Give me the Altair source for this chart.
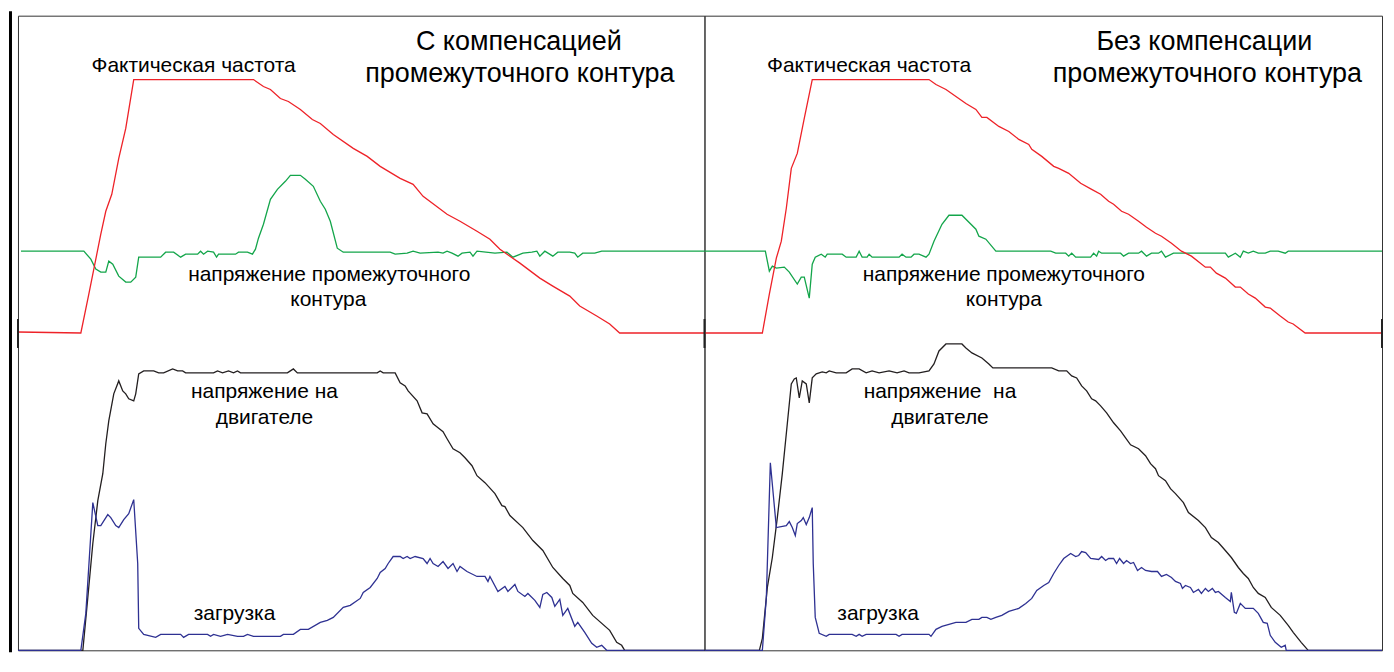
import altair as alt
import pandas as pd

# Time axis: samples 0..688 per panel; level axis: counts 0..636

# ---------------- left panel: with DC-link compensation ----------------
RED_L = [(0, 319), (63, 318), (71, 357), (83, 417), (88, 440), (94, 457), (101, 493), (108, 523), (116, 572),
         (236, 572), (246, 565), (253, 562), (263, 553), (271, 550), (283, 542), (295, 532), (303, 528),
         (316, 517), (336, 503), (350, 495), (363, 485), (383, 473), (396, 467), (406, 455), (430, 437),
         (443, 430), (460, 420), (473, 412), (483, 402), (493, 395), (503, 388), (523, 373), (536, 365),
         (553, 355), (563, 345), (580, 335), (593, 327), (603, 318), (688, 318)]

GREEN_L = [(3, 400), (66, 400), (73, 392), (78, 382), (83, 379), (88, 379), (91, 390), (95, 387), (101, 375),
           (108, 369), (113, 369), (118, 374), (121, 394), (143, 394), (148, 399), (156, 399), (163, 394),
           (168, 397), (180, 397), (183, 400), (186, 397), (190, 400), (196, 399), (199, 394), (201, 397),
           (218, 397), (221, 399), (230, 399), (235, 397), (238, 402), (241, 413), (246, 427), (253, 452),
           (260, 462), (268, 470), (273, 476), (283, 476), (288, 472), (296, 465), (303, 450), (308, 442),
           (313, 430), (320, 403), (326, 399), (373, 399), (378, 397), (390, 398), (396, 400), (403, 398),
           (421, 399), (426, 398), (430, 400), (435, 398), (441, 395), (445, 398), (453, 399), (456, 395),
           (460, 400), (478, 398), (490, 399), (496, 394), (506, 398), (515, 399), (520, 400), (523, 395),
           (528, 400), (536, 395), (541, 399), (553, 399), (558, 398), (561, 394), (566, 398), (578, 398),
           (585, 400), (688, 400)]

BLACK_L = [(0, 0), (65, 0), (70, 53), (75, 107), (80, 150), (85, 177), (88, 207), (91, 230), (96, 257),
           (101, 270), (105, 260), (108, 257), (111, 252), (116, 250), (118, 257), (121, 277), (126, 280),
           (136, 280), (141, 278), (146, 278), (155, 282), (160, 280), (165, 280), (168, 278), (196, 278),
           (200, 280), (205, 278), (211, 280), (216, 278), (220, 280), (223, 278), (270, 278), (273, 280),
           (276, 282), (280, 278), (360, 278), (363, 280), (366, 278), (378, 278), (383, 268), (388, 265),
           (391, 260), (400, 250), (405, 238), (410, 237), (416, 227), (421, 223), (426, 219), (430, 212),
           (436, 202), (443, 198), (448, 193), (455, 185), (460, 175), (468, 168), (478, 157), (485, 145),
           (488, 144), (493, 135), (506, 123), (516, 110), (526, 100), (536, 83), (546, 72), (553, 65),
           (556, 57), (566, 48), (576, 35), (593, 20), (600, 8), (605, 5), (608, 0), (688, 0)]

BLUE_L = [(0, 0), (63, 0), (68, 37), (75, 148), (80, 125), (83, 125), (90, 136), (93, 133), (98, 125),
          (101, 123), (106, 131), (111, 137), (116, 151), (120, 87), (121, 22), (126, 16), (138, 13),
          (143, 16), (163, 16), (166, 13), (171, 16), (190, 16), (193, 14), (196, 16), (203, 14), (210, 16),
          (220, 14), (226, 14), (230, 16), (236, 14), (263, 14), (266, 16), (276, 16), (283, 21), (291, 21),
          (303, 28), (310, 30), (316, 33), (326, 43), (333, 45), (343, 52), (346, 58), (353, 63), (360, 72),
          (363, 78), (368, 82), (371, 87), (376, 94), (383, 94), (386, 92), (390, 94), (393, 92), (398, 94),
          (406, 92), (410, 87), (413, 92), (416, 87), (421, 84), (426, 89), (431, 82), (436, 87), (440, 79),
          (443, 84), (450, 79), (460, 74), (468, 74), (471, 69), (473, 74), (481, 59), (488, 64), (491, 59),
          (498, 66), (501, 59), (508, 54), (511, 57), (518, 50), (523, 43), (526, 56), (530, 58), (535, 53),
          (538, 44), (543, 51), (546, 35), (551, 42), (558, 24), (561, 28), (568, 18), (575, 7), (580, 3),
          (585, 5), (590, 0), (688, 0)]

# ---------------- right panel: without DC-link compensation ----------------
RED_R = [(0, 318), (58, 318), (65, 357), (72, 393), (77, 410), (82, 443), (87, 483), (93, 498), (100, 533),
         (108, 572), (225, 572), (232, 567), (242, 562), (252, 555), (262, 548), (272, 542), (278, 534),
         (283, 534), (295, 525), (305, 520), (315, 512), (325, 507), (328, 502), (338, 495), (350, 485),
         (355, 483), (365, 478), (377, 468), (388, 462), (397, 457), (405, 450), (410, 447), (418, 440),
         (425, 437), (435, 430), (443, 424), (452, 418), (458, 415), (468, 408), (478, 400), (488, 395),
         (502, 384), (507, 384), (513, 378), (522, 373), (532, 364), (537, 364), (545, 357), (552, 353),
         (562, 344), (567, 343), (577, 335), (585, 329), (590, 327), (602, 318), (688, 318)]

GREEN_R = [(0, 400), (61, 400), (65, 380), (68, 385), (72, 383), (80, 384), (85, 379), (93, 367), (97, 374),
           (100, 374), (105, 353), (108, 387), (111, 394), (117, 397), (121, 394), (123, 397), (138, 397),
           (142, 394), (152, 394), (155, 400), (158, 394), (163, 394), (165, 397), (168, 394), (195, 394),
           (198, 397), (202, 394), (207, 394), (210, 397), (215, 397), (222, 394), (225, 397), (230, 410),
           (238, 427), (245, 436), (258, 436), (272, 422), (275, 415), (282, 412), (292, 400), (347, 400),
           (352, 398), (362, 398), (365, 395), (368, 398), (372, 394), (387, 394), (390, 398), (393, 395),
           (395, 400), (398, 398), (417, 398), (420, 395), (425, 398), (435, 398), (438, 400), (443, 395),
           (448, 398), (455, 398), (458, 400), (462, 394), (470, 398), (522, 398), (525, 394), (532, 398),
           (537, 394), (540, 400), (545, 398), (550, 400), (555, 398), (562, 398), (567, 400), (575, 400),
           (582, 398), (585, 400), (688, 400)]

BLACK_R = [(0, 0), (55, 0), (58, 12), (63, 63), (68, 93), (73, 133), (78, 177), (83, 227), (87, 267),
           (90, 272), (92, 273), (95, 253), (98, 270), (102, 267), (105, 248), (108, 273), (112, 277),
           (118, 279), (122, 278), (125, 280), (132, 278), (142, 278), (148, 282), (155, 282), (162, 278),
           (168, 280), (175, 278), (185, 280), (193, 278), (200, 280), (205, 278), (215, 278), (225, 280),
           (230, 287), (235, 300), (242, 307), (258, 307), (262, 303), (268, 298), (278, 293), (285, 287),
           (289, 283), (348, 283), (355, 280), (363, 280), (368, 275), (373, 273), (378, 265), (383, 260),
           (388, 252), (392, 250), (397, 245), (403, 238), (410, 228), (417, 220), (422, 213), (427, 206),
           (435, 202), (442, 195), (447, 187), (452, 182), (455, 175), (462, 170), (467, 162), (472, 157),
           (480, 148), (485, 138), (495, 130), (502, 123), (508, 113), (515, 108), (522, 100), (528, 93),
           (535, 83), (540, 77), (545, 72), (550, 63), (555, 57), (562, 53), (568, 43), (577, 35), (585, 25),
           (590, 18), (598, 8), (605, 0), (688, 0)]

BLUE_R = [(0, 0), (58, 0), (62, 53), (66, 188), (72, 123), (82, 125), (85, 129), (88, 123), (91, 115),
          (93, 127), (97, 130), (99, 133), (102, 126), (105, 133), (108, 143), (109, 87), (111, 33), (115, 17),
          (122, 14), (125, 16), (148, 16), (152, 14), (155, 16), (158, 14), (162, 16), (192, 16), (195, 14),
          (198, 16), (225, 16), (227, 14), (232, 21), (238, 24), (252, 28), (262, 28), (268, 31), (275, 31),
          (278, 33), (283, 33), (287, 31), (292, 33), (298, 35), (305, 39), (315, 42), (322, 47), (328, 52),
          (333, 60), (340, 65), (345, 68), (350, 77), (355, 85), (360, 92), (367, 97), (372, 94), (375, 95),
          (378, 99), (382, 98), (387, 92), (395, 91), (398, 94), (402, 90), (405, 92), (410, 92), (413, 87),
          (416, 92), (420, 87), (423, 90), (427, 87), (430, 88), (434, 80), (438, 83), (442, 80), (448, 79),
          (454, 79), (458, 74), (463, 76), (468, 73), (472, 69), (477, 67), (479, 62), (482, 65), (487, 63),
          (490, 58), (495, 61), (498, 57), (502, 62), (505, 59), (509, 62), (512, 58), (515, 59), (522, 53),
          (527, 49), (528, 58), (531, 38), (533, 37), (537, 47), (542, 42), (550, 42), (555, 37), (560, 28),
          (564, 27), (567, 15), (572, 8), (578, 3), (582, 5), (583, 0), (688, 0)]

# ---------------- annotation texts ----------------
LBL_L_TEXT = ["С компенсацией", "промежуточного контура", "Фактическая частота",
              "напряжение промежуточного", "контура", "напряжение на", "двигателе", "загрузка"]
LBL_L_T = [502, 503, 176, 312, 311, 247, 247, 217]
LBL_L_V = [602, 570, 580, 370, 345, 253, 227, 30]
LBL_L_SIZE = [27, 27, 21, 21, 21, 21, 21, 21]

LBL_R_TEXT = ["Без компенсации", "промежуточного контура", "Фактическая частота",
              "напряжение промежуточного", "контура", "напряжение\u00a0 на", "двигателе", "загрузка"]
LBL_R_T = [501, 504, 165, 300, 300, 236, 236, 174]
LBL_R_V = [602, 570, 580, 370, 345, 253, 227, 30]
LBL_R_SIZE = [27, 27, 21, 21, 21, 21, 21, 21]

# small markers on the frame at the frequency zero level
MARK_L_T = [0]
MARK_R_T = [0, 688]
MARK_V = [303, 332]

SERIES = ["Фактическая частота", "напряжение промежуточного контура", "напряжение на двигателе", "загрузка"]
COLORS = ["#ee2228", "#13a54a", "#231f20", "#2e3192"]

FONT = "Liberation Sans"
H = 636
W_L = 688          # left panel: full time window visible
W_R = 679          # right panel: page is 9 px too narrow, the flat tail is clamped
X_DOMAIN_L = [0, 688]
X_DOMAIN_R = [0, 679]


def panel(red, green, black, blue, texts, ts, vs, sizes, mark_ts, width, xdom, left_bar=False):
    rows = []
    for name, pts in zip([SERIES[1], SERIES[2], SERIES[3], SERIES[0]], [green, black, blue, red]):
        for i, (t, v) in enumerate(pts):
            rows.append({"series": name, "i": i, "t": t, "v": v})
    df = pd.DataFrame(rows)
    xs = alt.Scale(domain=xdom, nice=False, zero=False, clamp=True)
    ys = alt.Scale(domain=[0, 636], nice=False, zero=False)
    lines = alt.Chart(df).mark_line(strokeWidth=1.3).encode(
        x=alt.X("t:Q", scale=xs, axis=None),
        y=alt.Y("v:Q", scale=ys, axis=None),
        color=alt.Color("series:N", scale=alt.Scale(domain=SERIES, range=COLORS), legend=None),
        detail="series:N",
        order="i:Q",
    )
    ldf = pd.DataFrame({"text": texts, "t": ts, "v": vs, "size": sizes})
    labels = alt.Chart(ldf).mark_text(font=FONT, align="center", baseline="alphabetic", color="black").encode(
        x=alt.X("t:Q", scale=xs, axis=None),
        y=alt.Y("v:Q", scale=ys, axis=None),
        text="text:N",
        size=alt.Size("size:Q", scale=None, legend=None),
    )
    mdf = pd.DataFrame({"t": mark_ts, "v": [MARK_V[0]] * len(mark_ts), "v2": [MARK_V[1]] * len(mark_ts)})
    marks = alt.Chart(mdf).mark_rule(color="#222", strokeWidth=2).encode(
        x=alt.X("t:Q", scale=xs, axis=None),
        y=alt.Y("v:Q", scale=ys, axis=None),
        y2="v2:Q",
    )
    layers = [lines, marks, labels]
    if left_bar:
        bar = alt.Chart(mdf).mark_rule(color="black", strokeWidth=3).encode(
            x=alt.value(-7.5), y=alt.value(-4.5), y2=alt.value(638)
        )
        layers.append(bar)
    return alt.layer(*layers).properties(width=width, height=H)


left = panel(RED_L, GREEN_L, BLACK_L, BLUE_L, LBL_L_TEXT, LBL_L_T, LBL_L_V, LBL_L_SIZE, MARK_L_T,
             W_L, X_DOMAIN_L, left_bar=True)
right = panel(RED_R, GREEN_R, BLACK_R, BLUE_R, LBL_R_TEXT, LBL_R_T, LBL_R_V, LBL_R_SIZE, MARK_R_T,
              W_R, X_DOMAIN_R)

chart = alt.hconcat(left, right, spacing=0, bounds="flush").properties(
    padding=0, background="white"
).configure_view(stroke="#333333", strokeWidth=1)

chart.save("out.html", embed_options={"renderer": "svg", "actions": False})
